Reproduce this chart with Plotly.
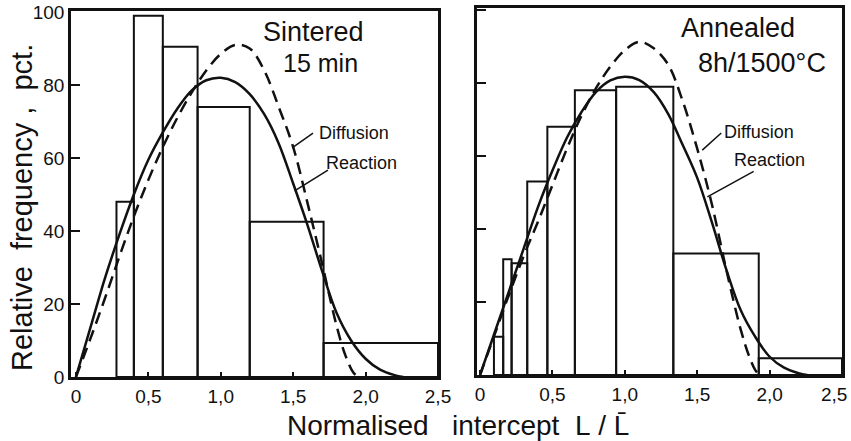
import plotly.graph_objects as go

# ---------------- data ----------------
# Sintered 15 min : histogram bins (left / right edges) and relative frequency
sint_left = [0.28, 0.40, 0.60, 0.84, 1.20, 1.71]
sint_right = [0.40, 0.60, 0.84, 1.20, 1.71, 2.50]
sint_freq = [48, 99, 90.5, 74, 42.5, 9.3]

# Annealed 8h/1500C histogram
ann_left = [0.096, 0.16, 0.218, 0.326, 0.465, 0.655, 0.94, 1.335, 1.925]
ann_right = [0.16, 0.218, 0.326, 0.465, 0.655, 0.94, 1.335, 1.925, 2.50]
ann_freq = [10.5, 31.7, 30.6, 53, 68, 78, 79, 33.3, 4.6]

# theoretical curves, Sintered panel
sint_reac_x = [0, 0.10, 0.20, 0.30, 0.40, 0.50, 0.60, 0.70, 0.80, 0.90, 1.00, 1.10, 1.20,
               1.30, 1.40, 1.50, 1.60, 1.70, 1.80, 1.90, 2.00, 2.10, 2.20, 2.26]
sint_reac_y = [0, 13.5, 27, 39, 50, 59.5, 67, 73.5, 78.5, 81.3, 82, 80.8, 77.5,
               72, 64, 53, 41.5, 29, 17.5, 10, 5, 2, 0.5, 0]
sint_diff_x = [0, 0.10, 0.20, 0.30, 0.40, 0.50, 0.60, 0.70, 0.80, 0.90, 1.00, 1.10, 1.20,
               1.30, 1.40, 1.50, 1.60, 1.70, 1.80, 1.86, 1.92, 1.96]
sint_diff_y = [0, 10.5, 21.5, 33, 44, 54, 63, 71, 78, 84, 88.5, 91, 90,
               84, 74, 63, 47.5, 31, 14, 6, 1, 0]

# theoretical curves, Annealed panel
ann_reac_x = [0, 0.10, 0.20, 0.30, 0.40, 0.50, 0.60, 0.70, 0.80, 0.90, 1.00, 1.10, 1.20,
              1.30, 1.40, 1.50, 1.60, 1.70, 1.80, 1.90, 2.00, 2.10, 2.20, 2.26]
ann_reac_y = [0, 11.5, 23, 34.5, 46, 56, 65, 72, 77.5, 80.7, 81.7, 80.8, 77.5,
              71.5, 63, 54, 42, 29, 17.8, 10.5, 5, 2, 0.5, 0]
ann_diff_x = [0, 0.10, 0.20, 0.30, 0.40, 0.50, 0.60, 0.70, 0.80, 0.90, 1.00, 1.10, 1.20,
              1.30, 1.40, 1.50, 1.60, 1.70, 1.80, 1.86, 1.90, 1.93]
ann_diff_y = [0, 11, 22, 32.5, 42, 52, 62, 71, 78.5, 84.5, 89, 91.3, 89.5,
              85, 75, 62, 47, 29, 12.5, 5, 1.4, 0]

x_tickvals = [0, 0.5, 1.0, 1.5, 2.0, 2.5]
x_ticktext = ["0", "0,5", "1,0", "1,5", "2,0", "2,5"]
y_tickvals = [0, 20, 40, 60, 80, 100]
y_ticktext = ["0", "20", "40", "60", "80", "100"]

INK = "#111111"
FONT = "Liberation Sans"

fig = go.Figure()


def add_hist(left, right, freq, xa, ya):
    centers = [(a + b) / 2 for a, b in zip(left, right)]
    widths = [b - a for a, b in zip(left, right)]
    fig.add_trace(go.Bar(x=centers, y=freq, width=widths, base=0,
                         marker=dict(color="rgba(0,0,0,0)", line=dict(color=INK, width=2)),
                         xaxis=xa, yaxis=ya, showlegend=False, hoverinfo="skip"))


def add_curve(x, y, dash, xa, ya):
    fig.add_trace(go.Scatter(x=x, y=y, mode="lines",
                             line=dict(color=INK, width=2.5, dash=dash, shape="spline", smoothing=1.0),
                             xaxis=xa, yaxis=ya, showlegend=False, hoverinfo="skip"))


add_hist(sint_left, sint_right, sint_freq, "x", "y")
add_curve(sint_reac_x, sint_reac_y, "solid", "x", "y")
add_curve(sint_diff_x, sint_diff_y, "12px,7px", "x", "y")

add_hist(ann_left, ann_right, ann_freq, "x2", "y2")
add_curve(ann_reac_x, ann_reac_y, "solid", "x2", "y2")
add_curve(ann_diff_x, ann_diff_y, "12px,7px", "x2", "y2")

W, H = 851, 441
TICKFONT = dict(family=FONT, size=19, color=INK)
axis_common = dict(showgrid=False, zeroline=False, showline=True, mirror=True,
                   linecolor=INK, linewidth=2.5, ticks="inside", tickcolor=INK,
                   tickwidth=2, tickfont=TICKFONT)

# right panel: last label is placed separately (right-aligned) so it stays inside the page
x2_ticktext = x_ticktext[:-1] + [""]

fig.update_layout(
    width=W, height=H,
    margin=dict(l=0, r=0, t=0, b=0, autoexpand=False),
    paper_bgcolor="white", plot_bgcolor="white",
    barmode="overlay",
    xaxis=dict(domain=[71 / W, 438 / W], range=[-0.034, 2.5], ticklabeloverflow="allow",
               tickvals=x_tickvals, ticktext=x_ticktext, ticklen=5, anchor="y", **axis_common),
    yaxis=dict(domain=[(H - 377) / H, (H - 11) / H], range=[0, 100.27],
               tickvals=y_tickvals, ticktext=y_ticktext, ticklen=9, anchor="x", **axis_common),
    xaxis2=dict(domain=[477 / W, 842 / W], range=[-0.021, 2.5], ticklabeloverflow="allow",
                tickvals=x_tickvals, ticktext=x2_ticktext, ticklen=5, anchor="y2", **axis_common),
    yaxis2=dict(domain=[(H - 375) / H, (H - 8) / H], range=[0, 100.55],
                tickvals=y_tickvals, ticklen=9, showticklabels=False, anchor="x2", **axis_common),
)

big = dict(family=FONT, size=27, color=INK)
small = dict(family=FONT, size=18, color=INK)
NB = "\u00a0"

ann = [
    dict(text="Sintered", x=1.64, y=94.5, xref="x", yref="y", font=big),
    dict(text="15 min", x=1.69, y=86, xref="x", yref="y", font=dict(family=FONT, size=25, color=INK)),
    dict(text="Diffusion", x=1.92, y=66.8, xref="x", yref="y", font=small),
    dict(text="Reaction", x=1.97, y=58.6, xref="x", yref="y", font=small),
    dict(text="Annealed", x=1.78, y=95, xref="x2", yref="y2", font=big),
    dict(text="8h/1500°C", x=1.95, y=85.5, xref="x2", yref="y2", font=big),
    dict(text="Diffusion", x=1.93, y=66.6, xref="x2", yref="y2", font=small),
    dict(text="Reaction", x=2.0, y=58.9, xref="x2", yref="y2", font=small),
    dict(text="Relative" + NB * 2 + "frequency" + NB + "," + NB * 2 + "pct.", x=22 / W, y=(H - 208) / H,
         xref="paper", yref="paper", textangle=-90, font=dict(family=FONT, size=29, color=INK)),
    dict(text="Normalised" + NB * 3 + "intercept" + NB * 2 + "L" + NB + "/" + NB + "L\u0304",
         x=458 / W, y=(H - 425) / H,
         xref="paper", yref="paper", font=dict(family=FONT, size=28, color=INK)),
]
for a in ann:
    a.update(showarrow=False, xanchor="center", yanchor="middle")
ann.append(dict(text=x_ticktext[-1], x=x_tickvals[-1], y=0, xref="x2", yref="y2",
                xanchor="right", yanchor="middle", xshift=7, yshift=-19,
                showarrow=False, font=TICKFONT))
fig.update_layout(annotations=ann)

leaders = [
    dict(x0=1.50, y0=63, x1=1.637, y1=66.8, xref="x", yref="y"),
    dict(x0=1.51, y0=51, x1=1.74, y1=56.7, xref="x", yref="y"),
    dict(x0=1.535, y0=61.6, x1=1.666, y1=66.3, xref="x2", yref="y2"),
    dict(x0=1.57, y0=48.8, x1=1.89, y1=55.8, xref="x2", yref="y2"),
]
for s in leaders:
    fig.add_shape(type="line", line=dict(color=INK, width=1.5), **s)

fig.write_html("out.html", config={"displayModeBar": False},
               post_script="document.body.style.margin='0';document.body.style.overflow='hidden';")
